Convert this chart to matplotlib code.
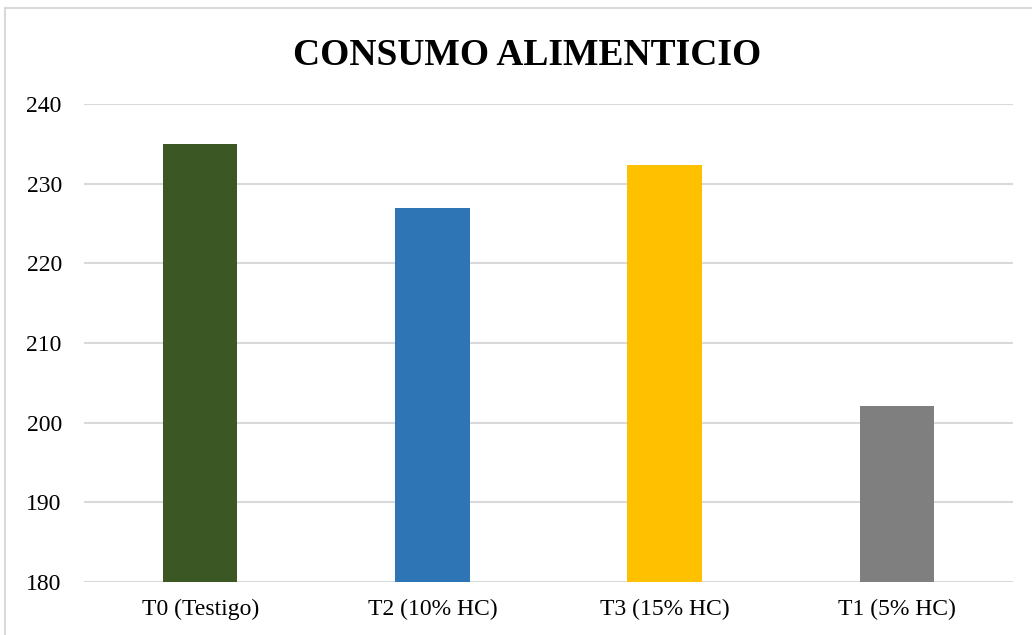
import matplotlib.pyplot as plt
from matplotlib.patches import Rectangle

categorias = ['T0 (Testigo)', 'T2 (10% HC)', 'T3 (15% HC)', 'T1 (5% HC)']
consumo = [235.0, 227.0, 232.3, 202.1]
colores = ['#3a5724', '#2e75b6', '#ffc000', '#7f7f7f']
y_ticks = [180, 190, 200, 210, 220, 230, 240]

plt.rcParams['font.family'] = ['Liberation Serif', 'DejaVu Serif']

fig = plt.figure(figsize=(10.32, 6.35), dpi=100)
ax = fig.add_axes([0.0814, 0.0835, 0.9002, 0.7527])

x = range(len(categorias))
ax.bar(x, consumo, width=0.32, color=colores, zorder=3)

ax.set_ylim(180, 240)
ax.set_xlim(-0.5, len(categorias) - 0.5)
ax.set_yticks(y_ticks)
ax.set_xticks(list(x))
ax.set_xticklabels(categorias)
ax.tick_params(axis='both', length=0, labelsize=17)
ax.tick_params(axis='y', pad=16)
ax.tick_params(axis='x', pad=12)
ax.grid(axis='y', color='#d9d9d9', linewidth=1.5, zorder=0)
for s in ax.spines.values():
    s.set_visible(False)

fig.text(0.511, 0.912, 'CONSUMO ALIMENTICIO', ha='center', va='center',
         fontsize=27, fontweight='bold')

# marco del grafico
fig.patches.append(Rectangle((5 / 1032, -0.02), 1.05, 1 - 8 / 635 + 0.02,
                             transform=fig.transFigure, fill=False,
                             edgecolor='#d9d9d9', linewidth=1.5))

fig.savefig('out.png', dpi=100)
